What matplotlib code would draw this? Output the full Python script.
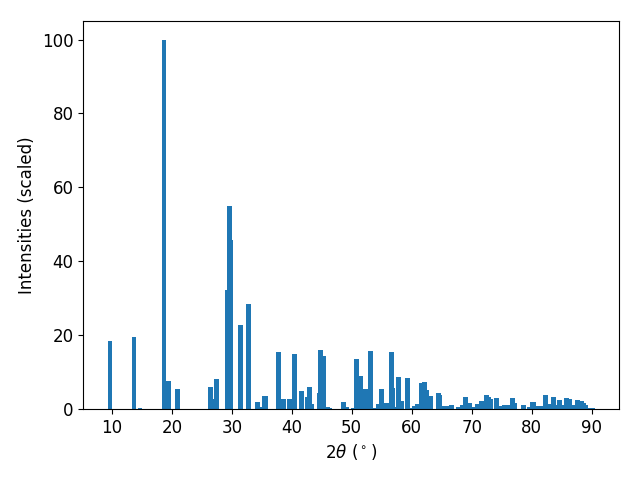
import numpy as np
import matplotlib
matplotlib.use("Agg")
import matplotlib.pyplot as plt

plt.rcParams['font.size'] = 12

two_theta = [9.67, 13.67, 14.67, 18.67, 19.5, 21.0, 26.5, 27.0, 27.5,
             29.32, 29.67, 29.85, 31.5, 32.83, 34.33, 35.0, 35.48, 35.68,
             37.83, 38.67, 39.67, 40.5, 41.67, 42.65, 43.0, 43.35, 44.6,
             44.83, 45.35, 46.0, 46.3, 48.67, 49.2, 50.2, 50.83, 51.5,
             52.33, 53.17, 54.0, 54.5, 55.0, 55.83, 56.67, 56.85, 57.3,
             57.83, 58.35, 59.3, 60.0, 60.5, 60.95, 61.65, 62.17, 62.5,
             63.2, 64.5, 64.7, 65.3, 65.8, 66.7, 67.8, 68.4, 68.95, 69.67,
             70.4, 71.0, 71.6, 72.5, 72.9, 73.2, 74.17, 74.8, 75.4, 76.0,
             76.83, 77.2, 78.67, 79.6, 80.1, 80.3, 81.0, 81.5, 82.33, 82.9,
             83.67, 84.0, 84.67, 85.2, 85.83, 86.4, 86.9, 87.6, 88.3, 88.7,
             89.0, 89.6, 90.1]
intensity = [18.4, 19.5, 0.3, 100.0, 7.6, 5.4, 6.0, 2.7, 8.1,
             32.2, 55.0, 45.8, 22.8, 28.5, 1.9, 0.5, 3.5, 3.5,
             15.4, 2.7, 2.7, 14.9, 4.9, 3.2, 6.0, 1.4, 4.3,
             16.0, 14.4, 0.5, 0.2, 1.9, 0.5, 0.3, 13.5, 8.8,
             5.4, 15.7, 0.3, 1.4, 5.4, 1.6, 15.4, 5.7, 0.5,
             8.7, 2.2, 8.4, 0.3, 0.8, 1.4, 7.1, 7.3, 5.1,
             3.5, 4.3, 3.8, 0.9, 0.9, 1.1, 0.6, 1.1, 3.3, 1.7,
             0.6, 1.4, 2.2, 3.8, 3.2, 2.7, 3.1, 0.9, 1.1, 1.1,
             3.1, 1.7, 1.1, 0.6, 1.9, 2.0, 0.8, 0.8, 3.8, 1.4,
             3.3, 1.1, 2.4, 1.1, 3.0, 2.7, 1.1, 2.4, 2.2, 1.6,
             1.1, 0.3, 0.3]

x = np.array(two_theta)
y = np.array(intensity)
# taller peaks drawn last so they sit on top of close neighbours
order = np.argsort(y, kind='stable')

fig, ax = plt.subplots(figsize=(6.4, 4.8), dpi=100)
ax.bar(x[order], y[order])
ax.set_xlabel(r'$2\theta$ ($^\circ$)')
ax.set_ylabel('Intensities (scaled)')
fig.subplots_adjust(left=0.13, right=0.967, bottom=0.148, top=0.956)
plt.savefig("out.png")
